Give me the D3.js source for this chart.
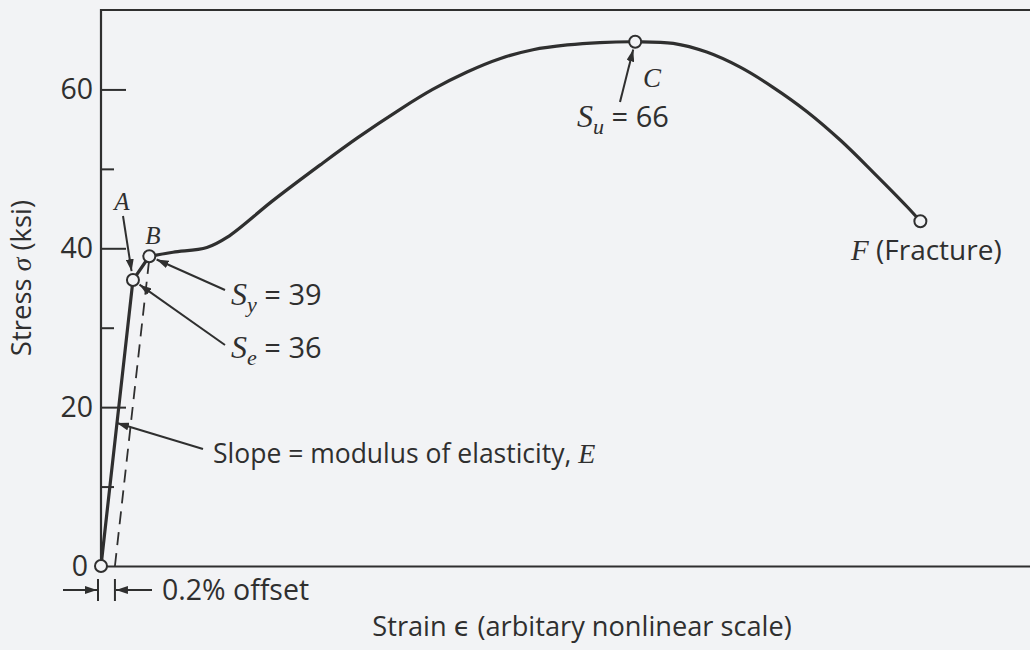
<!DOCTYPE html>
<html>
<head>
<meta charset="utf-8">
<script src="https://cdn.jsdelivr.net/npm/d3@7"></script>
<style>
  html, body { margin: 0; padding: 0; background: #f2f3f5; }
  svg { display: block; }
  text { font-family: "Open Sans", "DejaVu Sans", sans-serif; fill: #2f2f2f; }
  .ital { font-family: "Liberation Serif", "DejaVu Serif", serif; font-style: italic; }
</style>
</head>
<body>
<svg id="chart" width="1030" height="650"></svg>
<script>
// Engineering stress–strain curve of a ductile steel.
// Strain is on an arbitrary (nonlinear) scale, stress in ksi.
const strain = [0, 3.44, 5.2, 7.75, 11.4, 13.6, 18.5, 23.6, 27.6, 32.2, 35.7, 39.4, 43.0, 46.5,
                50.2, 53.7, 57.5, 61.6, 65.2, 68.8, 72.3, 76.0, 79.6, 83.1, 86.8, 88.2];
const stress = [0, 36, 39, 39.5, 40.1, 41.4, 46.0, 50.5, 53.9, 57.5, 60.0, 62.2, 63.9, 65.0,
                65.6, 65.9, 66, 65.8, 64.7, 62.8, 60.3, 57.2, 53.6, 49.6, 45.2, 43.4];

// Named points on the curve (index into the arrays above)
const pointNames = ["O", "A", "B", "C", "F"];
const pointIndex = [0, 1, 2, 16, 25];

// Elastic limit, yield strength, ultimate strength
const Se = 36, Sy = 39, Su = 66;
const offsetStrain = 1.5;          // 0.2 % offset on this strain scale
const slopeLabelStress = 18;       // where the modulus note meets the elastic line

const yMajorTicks = [0, 20, 40, 60];
const yMinorTicks = [10, 30, 50];

const svg = d3.select("#chart");
const W = 1030, H = 650;

const x = d3.scaleLinear().domain([0, 100]).range([101, 1030]);
const y = d3.scaleLinear().domain([0, 70]).range([566, 10]);

const ink = "#2f2f2f";
const bg = "#f2f3f5";

// arrowhead marker
const defs = svg.append("defs");
defs.append("marker")
  .attr("id", "arrow")
  .attr("viewBox", "0 0 12 8")
  .attr("refX", 12).attr("refY", 4)
  .attr("markerWidth", 12).attr("markerHeight", 8)
  .attr("markerUnits", "userSpaceOnUse")
  .attr("orient", "auto")
  .append("path").attr("d", "M0,0 L12,4 L0,8 Z").attr("fill", ink);

// ---- axes ----
const yAxis = d3.axisLeft(y)
  .tickValues(yMajorTicks)
  .tickSizeInner(-25).tickSizeOuter(0).tickPadding(8)
  .tickFormat(d3.format("d"));
const gy = svg.append("g").attr("transform", `translate(${x(0)},0)`).call(yAxis);
gy.select(".domain").remove();
gy.selectAll(".tick line").attr("stroke", ink).attr("stroke-width", 2)
  .filter(d => d === 0).remove();
gy.selectAll(".tick text")
  .attr("font-size", 28.5).attr("fill", ink)
  .attr("font-family", "Open Sans, sans-serif")
  .attr("x", d => d === 0 ? -13 : -8);

const yMinor = d3.axisLeft(y).tickValues(yMinorTicks).tickSizeInner(-13).tickSizeOuter(0).tickFormat("");
const gym = svg.append("g").attr("transform", `translate(${x(0)},0)`).call(yMinor);
gym.select(".domain").remove();
gym.selectAll(".tick line").attr("stroke", ink).attr("stroke-width", 2);

const xAxis = d3.axisBottom(x).tickValues([]).tickSizeOuter(0);
const gx = svg.append("g").attr("transform", `translate(0,${y(0)})`).call(xAxis);
gx.select(".domain").attr("stroke", ink).attr("stroke-width", 2.2);

// left axis and top frame line
svg.append("path")
  .attr("d", `M${x(0)},${y(0)} V${y(70)} H${W}`)
  .attr("fill", "none").attr("stroke", ink).attr("stroke-width", 2.2);

// ---- curve ----
const pts = strain.map((s, i) => [s, stress[i]]);
const lineLin = d3.line().x(d => x(d[0])).y(d => y(d[1]));
const lineSmooth = d3.line().x(d => x(d[0])).y(d => y(d[1])).curve(d3.curveCatmullRom.alpha(0.5));

// 0.2 % offset line, parallel to the elastic line
const E = stress[1] / strain[1];
svg.append("path")
  .attr("d", lineLin([[offsetStrain, 0], [offsetStrain + Sy / E, Sy]]))
  .attr("fill", "none").attr("stroke", ink).attr("stroke-width", 1.8)
  .attr("stroke-dasharray", "13,8");

svg.append("path")
  .attr("d", lineLin(pts.slice(0, 3)))
  .attr("fill", "none").attr("stroke", ink).attr("stroke-width", 3.2)
  .attr("stroke-linejoin", "round");
svg.append("path")
  .attr("d", lineSmooth(pts.slice(2)))
  .attr("fill", "none").attr("stroke", ink).attr("stroke-width", 3.2)
  .attr("stroke-linecap", "round");

// ---- annotation arrows ----
function px(i) { return [x(strain[i]), y(stress[i])]; }
function arrow(from, to, gap) {
  const dx = to[0] - from[0], dy = to[1] - from[1];
  const L = Math.hypot(dx, dy);
  const tx = to[0] - dx / L * gap, ty = to[1] - dy / L * gap;
  svg.append("line")
    .attr("x1", from[0]).attr("y1", from[1]).attr("x2", tx).attr("y2", ty)
    .attr("stroke", ink).attr("stroke-width", 2).attr("marker-end", "url(#arrow)");
}
const P = {};
pointNames.forEach((n, k) => P[n] = px(pointIndex[k]));

arrow([123, 216], P.A, 9);
arrow([225, 290], P.B, 8);
arrow([225, 345], P.A, 8);
arrow([620, 102], P.C, 8);
arrow([203, 449], [x(slopeLabelStress / E), y(slopeLabelStress)], 0);

// offset dimension marks
const yo = 590;
const bar0 = x(0) - 3, bar1 = x(offsetStrain);
[bar0, bar1].forEach(bx => svg.append("line")
  .attr("x1", bx).attr("x2", bx).attr("y1", yo - 11).attr("y2", yo + 11)
  .attr("stroke", ink).attr("stroke-width", 2));
svg.append("line").attr("x1", 63).attr("x2", bar0 - 1).attr("y1", yo).attr("y2", yo)
  .attr("stroke", ink).attr("stroke-width", 2).attr("marker-end", "url(#arrow)");
svg.append("line").attr("x1", 152).attr("x2", bar1 + 1).attr("y1", yo).attr("y2", yo)
  .attr("stroke", ink).attr("stroke-width", 2).attr("marker-end", "url(#arrow)");

// ---- point markers ----
svg.selectAll("circle.pt")
  .data(pointIndex)
  .join("circle").attr("class", "pt")
  .attr("cx", i => x(strain[i])).attr("cy", i => y(stress[i]))
  .attr("r", 6).attr("fill", bg).attr("stroke", ink).attr("stroke-width", 2);

// ---- text ----
function label(xp, yp, size) {
  return svg.append("text").attr("x", xp).attr("y", yp).attr("font-size", size);
}
label(122, 210, 25).attr("class", "ital").attr("text-anchor", "middle").text("A");
label(153, 244, 25).attr("class", "ital").attr("text-anchor", "middle").text("B");
label(643, 87, 27).attr("class", "ital").text("C");

function strengthLabel(xp, yp, sub, val) {
  const t = label(xp, yp, 29);
  t.append("tspan").attr("class", "ital").attr("font-size", 32).text("S");
  t.append("tspan").attr("class", "ital").attr("font-size", 22).attr("dy", 7).text(sub);
  t.append("tspan").attr("dy", -7).text(" = " + val);
}
strengthLabel(231, 305, "y", Sy);
strengthLabel(231, 358, "e", Se);
strengthLabel(577, 127, "u", Su);

const sl = label(213, 463, 26.5);
sl.append("tspan").text("Slope = modulus of elasticity, ");
sl.append("tspan").attr("class", "ital").attr("font-size", 28).text("E");

const fr = label(851, 260, 28);
fr.append("tspan").attr("class", "ital").attr("font-size", 29).text("F");
fr.append("tspan").text(" (Fracture)");

label(162, 600, 28.5).text("0.2% offset");

label(582, 636, 27.2).attr("text-anchor", "middle").text("Strain \u03F5 (arbitary nonlinear scale)");

const yt = svg.append("text")
  .attr("transform", "translate(31,278) rotate(-90)")
  .attr("text-anchor", "middle").attr("font-size", 27.5);
yt.append("tspan").text("Stress ");
yt.append("tspan").attr("class", "ital").text("\u03C3");
yt.append("tspan").text(" (ksi)");
</script>
</body>
</html>
